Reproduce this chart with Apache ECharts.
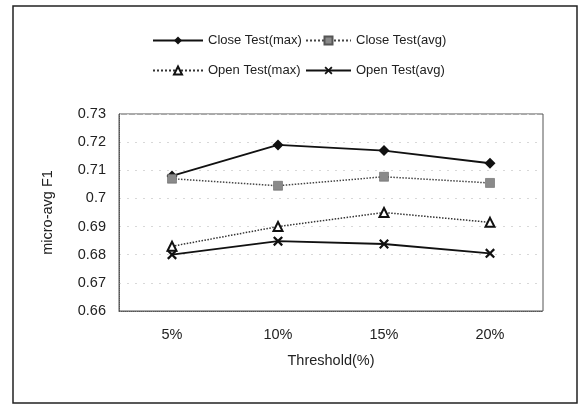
<!DOCTYPE html>
<html><head><meta charset="utf-8">
<script src="https://cdn.jsdelivr.net/npm/echarts@6/dist/echarts.min.js"></script>
<style>html,body{margin:0;padding:0;background:#fff}#c{width:580px;height:406px}</style>
</head><body><div id="c"></div>
<script>
const categories = ['5%', '10%', '15%', '20%'];
const closeMax = [0.708, 0.719, 0.717, 0.7125];
const closeAvg = [0.707, 0.7045, 0.7077, 0.7055];
const openMax = [0.683, 0.690, 0.695, 0.6915];
const openAvg = [0.680, 0.6848, 0.6838, 0.6805];
const seriesNames = ['Close Test(max)', 'Close Test(avg)', 'Open Test(max)', 'Open Test(avg)'];
const yTicks = { min: 0.66, max: 0.73, interval: 0.01 };

const X_PATH = 'path://M0,1.6L1.6,0L5,3.4L8.4,0L10,1.6L6.6,5L10,8.4L8.4,10L5,6.6L1.6,10L0,8.4L3.4,5Z';
const font = 'Liberation Sans, Arial, sans-serif';

const chart = echarts.init(document.getElementById('c'), null, { renderer: 'canvas' });
function legendAt(name, left, top, w) {
  return {
    data: [name], left: left, top: top, itemWidth: w, itemHeight: 10, itemGap: 4,
    textStyle: { fontFamily: font, fontSize: 13, color: '#222' }, selectedMode: false
  };
}
chart.setOption({
  animation: false,
  backgroundColor: '#fff',
  graphic: [{
    type: 'rect', shape: { x: 13, y: 6, width: 564, height: 397 },
    style: { fill: 'none', stroke: '#222', lineWidth: 1.5 }, silent: true
  }],
  legend: [
    legendAt(seriesNames[0], 147, 29, 50),
    legendAt(seriesNames[1], 300, 29, 45),
    legendAt(seriesNames[2], 147, 59, 50),
    legendAt(seriesNames[3], 300, 59, 45)
  ],
  grid: { left: 119, right: 37, top: 114, bottom: 95, show: true, borderColor: '#555', borderWidth: 1 },
  xAxis: {
    type: 'category', data: categories, boundaryGap: true,
    name: 'Threshold(%)', nameLocation: 'middle', nameGap: 42,
    nameTextStyle: { fontFamily: font, fontSize: 14.5, color: '#222' },
    axisLine: { lineStyle: { color: '#555', type: 'dotted', width: 1 } },
    axisTick: { inside: true, length: 3, lineStyle: { color: '#555' } },
    axisLabel: { fontFamily: font, fontSize: 14.5, color: '#222', margin: 16 }
  },
  yAxis: {
    type: 'value', min: yTicks.min, max: yTicks.max, interval: yTicks.interval,
    name: 'micro-avg F1', nameLocation: 'middle', nameGap: 64, nameRotate: 90,
    nameTextStyle: { fontFamily: font, fontSize: 14.5, color: '#222' },
    axisLine: { show: true, lineStyle: { color: '#555', type: 'dotted' } },
    axisTick: { show: false },
    axisLabel: { fontFamily: font, fontSize: 14.5, color: '#222', margin: 13,
      formatter: v => String(Math.round(v * 100) / 100) },
    splitLine: { show: true, lineStyle: { color: '#d8d8d8', type: [2, 6], width: 1 } }
  },
  series: [
    { name: seriesNames[0], type: 'line', data: closeMax, symbol: 'diamond', symbolSize: 11,
      lineStyle: { color: '#111', width: 1.8 }, itemStyle: { color: '#111' } },
    { name: seriesNames[1], type: 'line', data: closeAvg, symbol: 'rect', symbolSize: 9,
      lineStyle: { color: '#444', width: 1.5, type: 'dotted' }, itemStyle: { color: '#8a8a8a', borderColor: '#555', borderWidth: 0.5 } },
    { name: seriesNames[2], type: 'line', data: openMax, symbol: 'triangle', symbolSize: 9,
      lineStyle: { color: '#333', width: 1.5, type: 'dotted' }, itemStyle: { color: '#fff', borderColor: '#111', borderWidth: 2 } },
    { name: seriesNames[3], type: 'line', data: openAvg, symbol: X_PATH, symbolSize: 10,
      lineStyle: { color: '#111', width: 1.8 }, itemStyle: { color: '#111' } }
  ]
});
</script></body></html>
